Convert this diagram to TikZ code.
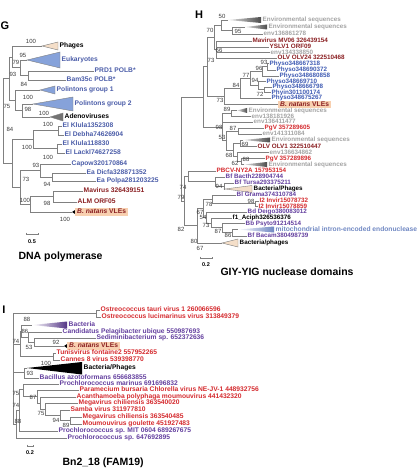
\documentclass[tikz,border=0pt]{standalone}
\usepackage{fontspec}
\setmainfont{Liberation Sans}

\definecolor{treegray}{HTML}{808080}
\definecolor{bootgray}{HTML}{3A3A3A}
\definecolor{seqblue}{HTML}{4A5CA8}
\definecolor{physoblue}{HTML}{3F5BB3}
\definecolor{wedgeblue}{HTML}{86A2DA}
\definecolor{virred}{HTML}{D42A2E}
\definecolor{virdark}{HTML}{8A1F22}
\definecolor{bacpurple}{HTML}{633F9E}
\definecolor{envgray}{HTML}{A3A3A3}
\definecolor{phagebeige}{HTML}{F4DEC8}
\definecolor{natbox}{HTML}{F8D0B0}
\definecolor{mitoblue}{HTML}{6F87C2}

\begin{document}
\begin{tikzpicture}[x=1pt, y=-1pt,
    branch/.style={draw=treegray, line width=0.6pt},
    leaf/.style={anchor=west, inner sep=0.5pt, text height=4.8pt, text depth=1.3pt,
        font=\fontsize{6.7}{7}\selectfont\bfseries},
    hleaf/.style={leaf, text height=4.5pt, text depth=1.2pt,
        font=\fontsize{6.3}{6.5}\selectfont\bfseries},
    boot/.style={inner sep=0pt, text=bootgray, font=\fontsize{6}{6}\selectfont},
    wedge/.style={draw=treegray, line width=0.4pt},
    natans/.style={leaf, fill=natbox, text=virdark, inner xsep=2pt, inner ysep=0.8pt},
    panel/.style={font=\fontsize{11}{11}\selectfont\bfseries},
    paneltitle/.style={anchor=west, font=\fontsize{10.5}{11}\selectfont\bfseries},
    scalebar/.style={font=\fontsize{5.5}{6}\selectfont\bfseries}]

\useasboundingbox (0,0) rectangle (417,470);

%% G: DNA polymerase
\node[panel] (labG) at (5,26) {G};

\coordinate (gR) at (3,121);
\coordinate (g93) at (9,78.6);
\coordinate (gTop) at (12,56.9);
\coordinate (g79) at (20,67.75);
\coordinate (g84a) at (28,75.5);
\coordinate (gPA) at (15,100.25);
\coordinate (gP2A) at (22,110.5);
\coordinate (g84) at (12,163.4);
\coordinate (gEl) at (33,139.5);
\coordinate (gEl1) at (58,130.5);
\coordinate (gEl2) at (57,148.5);
\coordinate (g73) at (20,187.4);
\coordinate (g93b) at (40,170.5);
\coordinate (g94) at (52,177);
\coordinate (g100) at (30,204.25);
\coordinate (g98) at (53,196.5);

\coordinate (gPhg) at (42,46);
\filldraw[wedge, fill=phagebeige] (gPhg) -- (58,42) -- (58,50) -- cycle;
\node[leaf] (gPhgL) at (59,46) {Phages};
\coordinate (gEuk) at (27,60);
\filldraw[wedge, fill=wedgeblue] (gEuk) -- (60,52) -- (60,68) -- cycle;
\node[leaf, text=seqblue] (gEukL) at (61,60) {Eukaryotes};
\node[leaf, text=seqblue] (gPrd) at (94,71) {PRD1 POLB*};
\node[leaf, text=seqblue] (gBam) at (66,80) {Bam35c POLB*};
\coordinate (gPo1) at (40,90);
\filldraw[wedge, fill=wedgeblue] (gPo1) -- (55,86) -- (55,94) -- cycle;
\node[leaf, text=seqblue] (gPo1L) at (56,90) {Polintons group 1};
\coordinate (gPo2) at (33,104);
\filldraw[wedge, fill=wedgeblue] (gPo2) -- (73,97) -- (73,111) -- cycle;
\node[leaf, text=seqblue] (gPo2L) at (74,104) {Polintons group 2};
\coordinate (gAdn) at (50,117);
\filldraw[wedge, fill=black!55] (gAdn) -- (63,113) -- (63,121) -- cycle;
\node[leaf] (gAdnL) at (64,117) {Adenoviruses};
\node[leaf, text=seqblue] (gKl1) at (62,126) {El Klula1352308};
\node[leaf, text=seqblue] (gDeb) at (64,135) {El Debha74626904};
\node[leaf, text=seqblue] (gKl2) at (62,144) {El Klula118830};
\node[leaf, text=seqblue] (gLac) at (65,153) {El Lackl74627258};
\node[leaf, text=seqblue] (gCap) at (71,164) {Capow320170864};
\node[leaf, text=seqblue] (gDic) at (86,173) {Ea Dicfa328871352};
\node[leaf, text=seqblue] (gPol) at (96,181) {Ea Polpa281203225};
\node[leaf, text=virdark] (gMav) at (83,191) {Mavirus 326439151};
\node[leaf, text=virdark] (gAlm) at (77,202) {ALM ORF05};
\coordinate (gNat) at (72,212);
\fill (gNat) -- (75,210) -- (75,214) -- cycle;
\node[natans] (gNatL) at (75,212) {\textit{B. natans} VLEs};

\foreach \p/\c in {gR/g93, gR/g84, g93/gTop, g93/gPA, gTop/gPhg, gTop/g79,
    g79/gEuk, g79/g84a, g84a/gPrd, g84a/gBam, gPA/gPo1, gPA/gP2A,
    gP2A/gPo2, gP2A/gAdn, g84/gEl, g84/g73, gEl/gEl1, gEl/gEl2,
    gEl1/gKl1, gEl1/gDeb, gEl2/gKl2, gEl2/gLac, g73/g93b, g73/g100,
    g93b/gCap, g93b/g94, g94/gDic, g94/gPol, g100/g98, g100/gNat,
    g98/gMav, g98/gAlm}
    \draw[branch] (\p) |- (\c);

\foreach \x/\y/\v [count=\i] in {31/41/100, 23/55/95, 16/62/79, 13/74/93, 24/84/84,
    7/106/75, 28/97/100, 28/109/98, 44/113/100, 10/129/84, 48/124/100,
    27/147/100, 48/157/100, 36/165/93, 26/179/73, 47/184/94, 25/200/100,
    47/203/98, 65/219/100}
    \node[boot] (gb\i) at (\x,\y) {\v};

\draw[treegray, line width=0.6pt] (26,232.5) -- (26,234) -- (38,234) -- (38,232.5);
\node[scalebar] (gScale) at (32,242) {0.5};
\node[paneltitle] (gTitle) at (15,257) {DNA polymerase};

%% H: GIY-YIG nuclease domains
\node[panel] (labH) at (199,15) {H};

\coordinate (hRoot) at (181,148.85);
\coordinate (hTopAll) at (203,96.9);
\coordinate (hU) at (207,66.75);
\coordinate (h70) at (214,37.4);
\coordinate (h50) at (221,25.25);
\coordinate (h95) at (232,30.5);
\coordinate (h66) at (216,49.5);
\coordinate (h73b) at (224,96.1);
\coordinate (hP84) at (240,88.1);
\coordinate (hP77) at (250,78.25);
\coordinate (hP96) at (262,71.25);
\coordinate (hP93) at (267,66.5);
\coordinate (hP94) at (258,85.25);
\coordinate (hP72) at (264,89.5);
\coordinate (h98) at (222,127);
\coordinate (h89) at (231,113.5);
\coordinate (h53) at (226,140.5);
\coordinate (h87) at (238,131);
\coordinate (h68) at (233,150);
\coordinate (h69) at (240,143.5);
\coordinate (h62) at (237,156.5);
\coordinate (h88) at (241,161);
\coordinate (h82) at (184,200.8);
\coordinate (h74) at (188,176);
\coordinate (hBT) at (215,181);
\coordinate (h94) at (224,186);
\coordinate (h80) at (197,225.65);
\coordinate (h67a) at (203,208.3);
\coordinate (h78) at (212,199.25);
\coordinate (h98b) at (255,203.5);
\coordinate (h54) at (206,217.4);
\coordinate (h73c) at (211,222.9);
\coordinate (h87b) at (222,227.75);
\coordinate (h86) at (232,232.5);

\coordinate (hEn1) at (228,20);
\shade[left color=envgray!30, right color=black!70] (hEn1) -- (261,17) -- (261,23) -- cycle;
\node[hleaf, text=envgray] (hEn1L) at (262,20) {Environmental sequences};
\coordinate (hEn2) at (245,27);
\shade[left color=envgray!30, right color=black!70] (hEn2) -- (267,24.5) -- (267,29.5) -- cycle;
\node[hleaf, text=envgray] (hEn2L) at (268,27) {Environmental sequences};
\node[hleaf, text=envgray] (hE278) at (263,34) {env136861278};
\node[hleaf, text=virdark] (hMav) at (252,41) {Mavirus MV06 326439154};
\node[hleaf, text=virdark] (hYsl) at (269,47) {YSLV1 ORF09};
\node[hleaf, text=envgray] (hE850) at (270,52.5) {env134338850};
\node[hleaf, text=virdark] (hOl24) at (277,58) {OLV OLV24 322510468};
\node[hleaf, text=physoblue] (hPs1) at (269,63.5) {Physo348667318};
\node[hleaf, text=physoblue] (hPs2) at (276,70) {Physo348690372};
\node[hleaf, text=physoblue] (hPs3) at (279,76) {Physo348680858};
\node[hleaf, text=physoblue] (hPs4) at (266,81.5) {Physo348669710};
\node[hleaf, text=physoblue] (hPs5) at (272,87) {Physo348666798};
\node[hleaf, text=physoblue] (hPhy) at (271,92.5) {Phyin301100174};
\node[hleaf, text=physoblue] (hPs6) at (271,98) {Physo348675267};
\node[natans] (hNat) at (278,104.5) {\textit{B. natans} VLEs};
\coordinate (hEn3) at (237,110.5);
\shade[left color=envgray!30, right color=black!70] (hEn3) -- (247,108) -- (247,113) -- cycle;
\node[hleaf, text=envgray] (hEn3L) at (248,110.5) {Environmental sequences};
\node[hleaf, text=envgray] (hE926) at (251,116.5) {env138181926};
\node[hleaf, text=envgray] (hE477) at (253,122) {env136411477};
\node[hleaf, text=virred] (hPg1) at (264,128) {PgV 357289605};
\node[hleaf, text=envgray] (hE084) at (262,134) {env141311084};
\coordinate (hEn4) at (243,140);
\shade[left color=envgray!30, right color=black!70] (hEn4) -- (270,137.5) -- (270,142.5) -- cycle;
\node[hleaf, text=envgray] (hEn4L) at (271,140) {Environmental sequences};
\node[hleaf, text=virdark] (hOl1) at (257,146.5) {OLV OLV1 322510447};
\node[hleaf, text=envgray] (hE862) at (269,152.5) {env136634862};
\node[hleaf, text=virred] (hPg2) at (265,158.5) {PgV 357289896};
\coordinate (hEn5) at (244,164.5);
\shade[left color=envgray!30, right color=black!70] (hEn5) -- (267,162) -- (267,167) -- cycle;
\node[hleaf, text=envgray] (hEn5L) at (268,164.5) {Environmental sequences};
\node[hleaf, text=virred] (hPbc) at (216,171) {PBCV-NY2A 157953154};
\node[hleaf, text=bacpurple] (hBac) at (225,177) {Bf Bacth228904744};
\node[hleaf, text=bacpurple] (hTur) at (234,183) {Bf Tursa293375211};
\coordinate (hBP1) at (225,189);
\filldraw[wedge, fill=phagebeige] (hBP1) -- (252,185.5) -- (252,192.5) -- cycle;
\node[hleaf] (hBP1L) at (253,189) {Bacteria/Phages};
\node[hleaf, text=bacpurple] (hGra) at (236,195) {Bl Grama374310784};
\node[hleaf, text=virred] (hIn1) at (259,201) {I2 Invir15078732};
\node[hleaf, text=virred] (hIn2) at (258,206.5) {I2 Invir15078859};
\node[hleaf, text=bacpurple] (hDei) at (247,212) {Bd Deigo380083012};
\node[hleaf] (hAci) at (232,218) {f1\_Aciph326536376};
\node[hleaf, text=bacpurple] (hPsy) at (245,223.5) {Bb Psyto91214514};
\coordinate (hMit) at (238,229.5);
\shade[left color=white, right color=mitoblue] (hMit) -- (274,226.5) -- (274,232.5) -- cycle;
\node[leaf, text=mitoblue] (hMitL) at (275,229.5) {mitochondrial intron-encoded endonuclease};
\node[hleaf, text=bacpurple] (hBcm) at (247,236) {Bf Bacam380498739};
\coordinate (hBP2) at (222,243);
\filldraw[wedge, fill=phagebeige] (hBP2) -- (238,239) -- (238,247) -- cycle;
\node[hleaf] (hBP2L) at (239,243) {Bacteria/phages};

\foreach \p/\c in {hRoot/hTopAll, hRoot/h82, hTopAll/hU, hTopAll/h98, hU/h70, hU/h73b,
    h70/h50, h70/h66, h50/hEn1, h50/h95, h95/hEn2, h95/hE278,
    h66/hMav, h66/hYsl, h66/hE850, h66/hOl24, h73b/hP84, h73b/hNat,
    hP84/hP77, hP84/hPs6, hP77/hP96, hP77/hP94, hP96/hP93, hP96/hPs3,
    hP93/hPs1, hP93/hPs2, hP94/hPs4, hP94/hP72, hP72/hPs5, hP72/hPhy,
    h98/h89, h98/hE477, h98/h53, h89/hEn3, h89/hE926, h53/h87, h53/h68,
    h87/hPg1, h87/hE084, h68/h69, h68/h62, h69/hEn4, h69/hOl1,
    h62/hE862, h62/h88, h88/hPg2, h88/hEn5,
    h82/h74, h82/h80, h74/hPbc, h74/hBT, hBT/hBac, hBT/h94,
    h94/hTur, h94/hBP1, h80/h67a, h80/hBP2, h67a/h78, h67a/h54,
    h78/hGra, h78/h98b, h98b/hIn1, h98b/hIn2, h54/hDei, h54/h73c,
    h73c/hAci, h73c/h87b, h87b/hPsy, h87b/h86, h86/hMit, h86/hBcm}
    \draw[branch] (\p) |- (\c);

\foreach \x/\y/\v [count=\i] in {222/16/50, 210/30/70, 238/31/95, 219/50/66, 211/60/73,
    264/62/93, 259/68/96, 246/75/77, 255/80/94, 236/85/84, 260/94/72,
    220/100/73, 227/109/89, 219/127/98, 233/128/87, 222/137/53, 245/144/69,
    229/155/68, 235/163/62, 246/159/88, 219/186/94, 251/201.5/98, 209/204/78,
    200/212/67, 203/217/54, 206/225/73, 218/231/87, 228/235/86, 194/241/80,
    200/248/67, 181/229/82, 181/197/79, 183/187/74}
    \node[boot] (hb\i) at (\x,\y) {\v};

\draw[treegray, line width=0.6pt] (200,256.5) -- (200,258) -- (212,258) -- (212,256.5);
\node[scalebar] (hScale) at (206,265) {0.2};
\node[paneltitle] (hTitle) at (217,272) {GIY-YIG nuclease domains};

%% I: Bn2_18 (FAM19)
\node[panel] (labI) at (4,310) {I};

\coordinate (iR) at (13,368);
\coordinate (iO) at (96,313.5);
\coordinate (i74) at (20,344);
\coordinate (i88) at (21,331);
\coordinate (i86) at (28,337);
\coordinate (i53) at (34,342);
\coordinate (i100) at (53,356.5);
\coordinate (i93) at (24,372.5);
\coordinate (i88b) at (16,424.2);
\coordinate (i74c) at (19,410.4);
\coordinate (i75b) at (23,389.75);
\coordinate (iA) at (37,396.5);
\coordinate (i87) at (40,403);
\coordinate (i75) at (45,409.1);
\coordinate (i94) at (60,415.25);
\coordinate (i89) at (70,420.5);

\node[leaf, text=virred] (iOt1) at (100,310) {Ostreococcus tauri virus 1 260066596};
\node[leaf, text=virred] (iOt2) at (101,317) {Ostreococcus lucimarinus virus 313849379};
\coordinate (iBact) at (32,325);
\shade[left color=white, right color=bacpurple!85!black] (iBact) -- (67,321.5) -- (67,328.5) -- cycle;
\node[leaf, text=bacpurple] (iBactL) at (68,325) {Bacteria};
\node[leaf, text=bacpurple] (iCand) at (62,332) {Candidatus Pelagibacter ubique 550987693};
\node[leaf, text=bacpurple] (iSed) at (96,338) {Sediminibacterium sp. 652372636};
\coordinate (iNat) at (64,346);
\fill (iNat) -- (67,344) -- (67,348) -- cycle;
\node[natans] (iNatL) at (67,346) {\textit{B. natans} VLEs};
\node[leaf, text=virred] (iTun) at (56,353) {Tunisvirus fontaine2 557952265};
\node[leaf, text=virred] (iCan) at (60,360) {Cannes 8 virus 539398770};
\coordinate (iBP) at (27,368);
\fill (iBP) -- (82,362) -- (82,374.5) -- cycle;
\node[leaf] (iBPL) at (83,368) {Bacteria/Phages};
\node[leaf, text=bacpurple] (iBcl) at (39,378) {Bacillus azotoformans 656683855};
\node[leaf, text=bacpurple] (iPmr) at (59,384) {Prochlorococcus marinus 691696832};
\node[leaf, text=virred] (iPbc) at (79,390) {Paramecium bursaria Chlorella virus NE-JV-1 448932756};
\node[leaf, text=virred] (iAca) at (76,397) {Acanthamoeba polyphaga moumouvirus 441432320};
\node[leaf, text=virred] (iMg1) at (78,403) {Megavirus chiliensis 363540020};
\node[leaf, text=virred] (iSam) at (70,410) {Samba virus 311977810};
\node[leaf, text=virred] (iMg2) at (82,417) {Megavirus chiliensis 363540485};
\node[leaf, text=virred] (iMou) at (82,424) {Moumouvirus goulette 451927483};
\node[leaf, text=bacpurple] (iPmt) at (58,431) {Prochlorococcus sp. MIT 0604 689267675};
\node[leaf, text=bacpurple] (iP64) at (67,438) {Prochlorococcus sp. 647692895};

\foreach \p/\c in {iR/iO, iR/i74, iR/i93, iR/i88b, iO/iOt1, iO/iOt2,
    i74/i88, i74/i100, i88/iBact, i88/i86, i86/iCand, i86/i53,
    i53/iSed, i53/iNat, i100/iTun, i100/iCan, i93/iBP, i93/iBcl,
    i88b/i74c, i88b/iP64, i74c/i75b, i74c/iPmt, i75b/iPmr, i75b/iA,
    iA/iPbc, iA/i87, i87/iAca, i87/i75, i75/iMg1, i75/i94,
    i94/iSam, i94/i89, i89/iMg2, i89/iMou}
    \draw[branch] (\p) |- (\c);

\foreach \x/\y/\v [count=\i] in {27/319/88, 25/331/86, 16/341/74, 29/347/53, 56/342/92,
    46/363/100, 30/373.5/93, 16/393/75, 33/397/87, 16/405/74, 41/413/75,
    56/420/94, 18/421/88, 66/425/89}
    \node[boot] (ib\i) at (\x,\y) {\v};

\draw[treegray, line width=0.6pt] (27,444.5) -- (27,446) -- (33,446) -- (33,444.5);
\node[scalebar] (iScale) at (30,453) {0.2};
\node[paneltitle] (iTitle) at (59,463) {Bn2\_18 (FAM19)};

\end{tikzpicture}
\end{document}
